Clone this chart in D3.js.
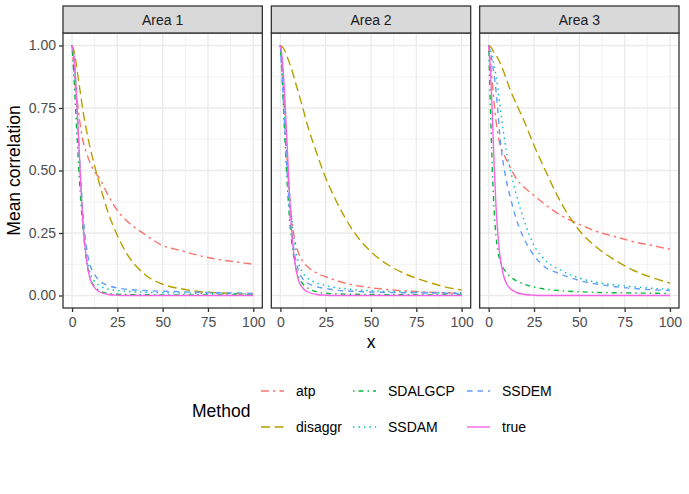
<!DOCTYPE html>
<html lang="en">
<head>
<meta charset="utf-8">
<title>Mean correlation</title>
<script src="https://d3js.org/d3.v7.min.js"></script>
<style>
  body { margin: 0; background: #fff; }
  svg text { font-family: "Liberation Sans", Arial, sans-serif; }
  .grid-major { stroke: #EBEBEB; stroke-width: 1.3; }
  .grid-minor { stroke: #EBEBEB; stroke-width: 0.65; }
  .tick-lab { fill: #4D4D4D; font-size: 14px; }
</style>
</head>
<body>
<script>
var xGrid = [0, 1, 2, 3, 4, 5, 6, 8, 10, 12, 15, 20, 25, 30, 40, 50, 60, 70, 80, 90, 100];

var areas = ["Area 1", "Area 2", "Area 3"];
var methods = ["atp", "disaggr", "SDALGCP", "SSDAM", "SSDEM", "true"];
var xTicks = [0, 25, 50, 75, 100];
var yTicks = [0, 0.25, 0.5, 0.75, 1];
var yTickLabels = ["0.00", "0.25", "0.50", "0.75", "1.00"];

// Area 1
var atp1     = [1,0.9,0.82,0.77,0.71,0.66,0.62,0.57,0.53,0.5,0.47,0.4,0.34,0.3,0.245,0.2,0.18,0.16,0.145,0.135,0.125];
var disaggr1 = [1,0.98,0.94,0.89,0.84,0.79,0.74,0.66,0.59,0.53,0.45,0.33,0.24,0.17,0.085,0.045,0.027,0.016,0.011,0.008,0.005];
var sdalgcp1 = [1,0.88,0.74,0.6,0.47,0.36,0.27,0.14,0.07,0.04,0.02,0.008,0.005,0.004,0.003,0.002,0.002,0.002,0.002,0.002,0.002];
var ssdam1   = [1,0.95,0.84,0.7,0.56,0.43,0.31,0.16,0.09,0.06,0.04,0.025,0.02,0.017,0.013,0.011,0.01,0.009,0.008,0.007,0.006];
var ssdem1   = [1,0.95,0.85,0.71,0.57,0.44,0.33,0.19,0.12,0.09,0.06,0.04,0.03,0.025,0.02,0.017,0.015,0.013,0.011,0.01,0.008];
var true1    = [1,0.96,0.86,0.72,0.57,0.42,0.29,0.14,0.065,0.035,0.015,0.004,0.001,0,0,0,0,0,0,0,0];

// Area 2
var atp2     = [1,0.9,0.78,0.64,0.51,0.4,0.32,0.22,0.17,0.14,0.115,0.09,0.075,0.062,0.042,0.031,0.023,0.018,0.014,0.011,0.009];
var disaggr2 = [1,0.995,0.985,0.97,0.95,0.93,0.91,0.86,0.81,0.76,0.68,0.57,0.47,0.39,0.26,0.175,0.12,0.083,0.057,0.036,0.022];
var sdalgcp2 = [1,0.86,0.7,0.55,0.42,0.31,0.23,0.13,0.075,0.05,0.03,0.015,0.009,0.007,0.005,0.004,0.003,0.003,0.002,0.002,0.002];
var ssdam2   = [1,0.89,0.77,0.64,0.52,0.42,0.33,0.2,0.13,0.095,0.07,0.05,0.04,0.032,0.024,0.019,0.016,0.014,0.012,0.011,0.01];
var ssdem2   = [1,0.87,0.73,0.59,0.46,0.35,0.27,0.16,0.1,0.07,0.05,0.035,0.028,0.022,0.017,0.014,0.012,0.011,0.01,0.009,0.008];
var true2    = [1,0.95,0.85,0.71,0.56,0.41,0.28,0.13,0.06,0.033,0.015,0.004,0.001,0,0,0,0,0,0,0,0];

// Area 3
var atp3     = [1,0.93,0.85,0.77,0.7,0.65,0.61,0.57,0.54,0.51,0.47,0.43,0.4,0.37,0.32,0.285,0.255,0.235,0.215,0.2,0.185];
var disaggr3 = [1,0.995,0.985,0.97,0.96,0.95,0.935,0.9,0.86,0.82,0.77,0.69,0.6,0.52,0.37,0.26,0.19,0.14,0.1,0.072,0.05];
var sdalgcp3 = [1,0.74,0.5,0.34,0.24,0.18,0.145,0.11,0.09,0.075,0.06,0.044,0.034,0.027,0.019,0.015,0.012,0.011,0.01,0.009,0.008];
var ssdam3   = [1,0.98,0.95,0.92,0.88,0.83,0.77,0.66,0.57,0.5,0.41,0.29,0.2,0.15,0.1,0.07,0.052,0.042,0.035,0.029,0.025];
var ssdem3   = [1,0.97,0.93,0.88,0.82,0.74,0.65,0.53,0.45,0.39,0.31,0.22,0.16,0.12,0.085,0.06,0.045,0.035,0.028,0.023,0.02];
var true3    = [1,0.9,0.72,0.52,0.36,0.25,0.17,0.085,0.045,0.027,0.013,0.004,0.001,0,0,0,0,0,0,0,0];

var seriesByArea = [
  [atp1, disaggr1, sdalgcp1, ssdam1, ssdem1, true1],
  [atp2, disaggr2, sdalgcp2, ssdam2, ssdem2, true2],
  [atp3, disaggr3, sdalgcp3, ssdam3, ssdem3, true3]
];

var colors = {atp: "#F8766D", disaggr: "#B79F00", SDALGCP: "#00BA38", SSDAM: "#00BFC4", SSDEM: "#619CFF", "true": "#F564E3"};
var dashes = {atp: "8,4,2.5,4", disaggr: "9,4.5", SDALGCP: "1.5,4,5,4", SSDAM: "1.5,4", SSDEM: "5.5,5", "true": null};

var w = 689, h = 494;
var left = 63, right = 679, gap = 9;
var pw = (right - left - 2 * gap) / 3;
var stripTop = 6, panelTop = 33, panelBottom = 308;

var svg = d3.select("body").append("svg")
    .attr("width", w)
    .attr("height", h);

svg.append("rect").attr("width", w).attr("height", h).attr("fill", "#fff");

var yScale = d3.scaleLinear().domain([-0.05, 1.05]).range([panelBottom, panelTop]);

areas.forEach(function(area, i) {
  var x0 = left + i * (pw + gap);
  var xScale = d3.scaleLinear().domain([-5, 105]).range([x0, x0 + pw]);

  var g = svg.append("g");

  g.append("clipPath").attr("id", "clip" + i)
    .append("rect").attr("x", x0).attr("y", panelTop).attr("width", pw).attr("height", panelBottom - panelTop);

  // minor grid
  [12.5, 37.5, 62.5, 87.5].forEach(function(v) {
    g.append("line").attr("class", "grid-minor")
      .attr("x1", xScale(v)).attr("x2", xScale(v)).attr("y1", panelTop).attr("y2", panelBottom);
  });
  [0.125, 0.375, 0.625, 0.875].forEach(function(v) {
    g.append("line").attr("class", "grid-minor")
      .attr("x1", x0).attr("x2", x0 + pw).attr("y1", yScale(v)).attr("y2", yScale(v));
  });
  // major grid
  xTicks.forEach(function(v) {
    g.append("line").attr("class", "grid-major")
      .attr("x1", xScale(v)).attr("x2", xScale(v)).attr("y1", panelTop).attr("y2", panelBottom);
  });
  yTicks.forEach(function(v) {
    g.append("line").attr("class", "grid-major")
      .attr("x1", x0).attr("x2", x0 + pw).attr("y1", yScale(v)).attr("y2", yScale(v));
  });

  var line = d3.line()
      .x(function(d) { return xScale(d[0]); })
      .y(function(d) { return yScale(d[1]); })
      .curve(d3.curveMonotoneX);

  methods.forEach(function(m, j) {
    var pts = xGrid.map(function(x, k) { return [x, seriesByArea[i][j][k]]; });
    g.append("path")
      .datum(pts)
      .attr("clip-path", "url(#clip" + i + ")")
      .attr("fill", "none")
      .attr("stroke", colors[m])
      .attr("stroke-width", 1.4)
      .attr("stroke-dasharray", dashes[m])
      .attr("d", line);
  });

  // panel border
  g.append("rect")
    .attr("x", x0).attr("y", panelTop).attr("width", pw).attr("height", panelBottom - panelTop)
    .attr("fill", "none").attr("stroke", "#333333").attr("stroke-width", 1.3);

  // strip
  g.append("rect")
    .attr("x", x0).attr("y", stripTop).attr("width", pw).attr("height", panelTop - stripTop)
    .attr("fill", "#D9D9D9").attr("stroke", "#333333").attr("stroke-width", 1.3);
  g.append("text")
    .attr("x", x0 + pw / 2).attr("y", (stripTop + panelTop) / 2 + 5)
    .attr("text-anchor", "middle")
    .attr("fill", "#1A1A1A").style("font-size", "14px")
    .text(area);

  // x axis
  var xAxis = d3.axisBottom(xScale).tickValues(xTicks).tickSize(4).tickPadding(3);
  var ax = g.append("g").attr("transform", "translate(0," + panelBottom + ")").call(xAxis);
  ax.select(".domain").remove();
  ax.selectAll("line").attr("stroke", "#333333").attr("stroke-width", 1.3);
  ax.selectAll("text").attr("class", "tick-lab").attr("fill", "#4D4D4D").attr("dy", "0.85em");

  if (i === 0) {
    var yAxis = d3.axisLeft(yScale).tickValues(yTicks).tickSize(4).tickPadding(3)
        .tickFormat(function(d, k) { return yTickLabels[k]; });
    var ay = g.append("g").attr("transform", "translate(" + x0 + ",0)").call(yAxis);
    ay.select(".domain").remove();
    ay.selectAll("line").attr("stroke", "#333333").attr("stroke-width", 1.3);
    ay.selectAll("text").attr("class", "tick-lab").attr("fill", "#4D4D4D");
  }
});

// axis titles
svg.append("text")
  .attr("x", (left + right) / 2).attr("y", 348)
  .attr("text-anchor", "middle").style("font-size", "17.5px")
  .text("x");

svg.append("text")
  .attr("transform", "translate(20," + ((panelTop + panelBottom) / 2) + ") rotate(-90)")
  .attr("text-anchor", "middle").style("font-size", "17.5px")
  .text("Mean correlation");

// legend
var legend = svg.append("g");
legend.append("text")
  .attr("x", 192).attr("y", 417)
  .style("font-size", "17.5px")
  .text("Method");

var colX = [261, 353, 467];
var rowY = [391, 427];
methods.forEach(function(m, j) {
  var cx = colX[Math.floor(j / 2)], cy = rowY[j % 2];
  legend.append("line")
    .attr("x1", cx).attr("x2", cx + 23).attr("y1", cy).attr("y2", cy)
    .attr("stroke", colors[m]).attr("stroke-width", 1.4)
    .attr("stroke-dasharray", dashes[m]);
  legend.append("text")
    .attr("x", cx + 35).attr("y", cy + 5)
    .style("font-size", "14px")
    .text(m);
});
</script>
</body>
</html>
